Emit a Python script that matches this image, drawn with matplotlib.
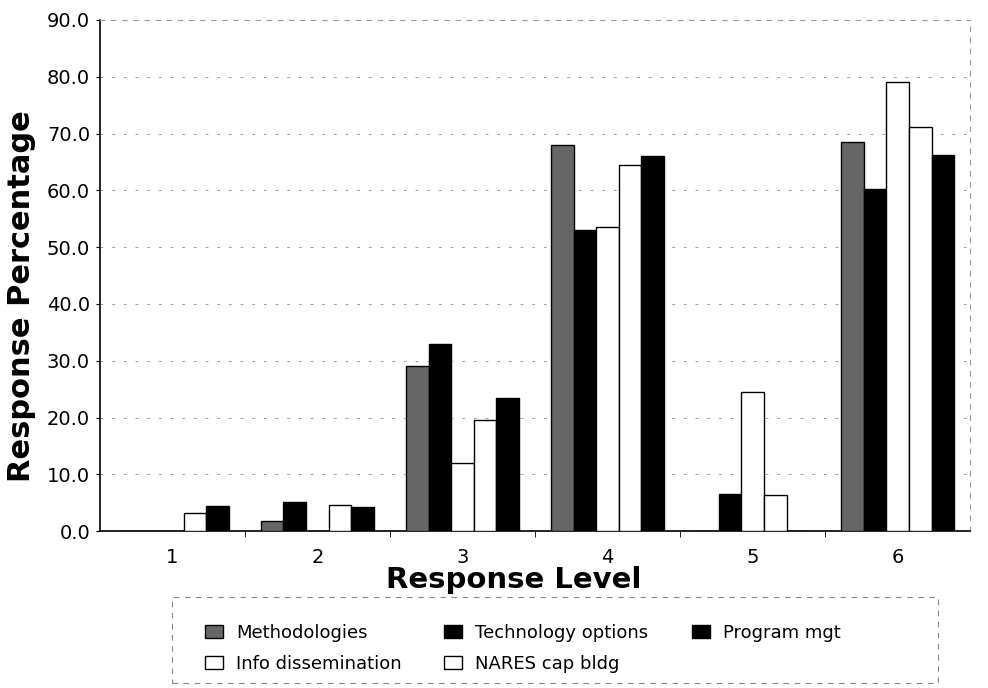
import numpy as np
import matplotlib
matplotlib.use("Agg")
import matplotlib.pyplot as plt
from matplotlib.patches import Patch, Rectangle

# response levels and percentages per series
levels = ["1", "2", "3", "4", "5", "6"]
methodologies = [0.0, 1.8, 29.0, 68.0, 0.0, 68.5]
technology = [0.0, 5.2, 33.0, 53.0, 6.5, 60.2]
info_diss = [0.0, 0.0, 12.0, 53.5, 24.5, 79.0]
nares = [3.2, 4.6, 19.5, 64.5, 6.3, 71.2]
program = [4.5, 4.3, 23.5, 66.0, 0.0, 66.2]
yticks = [0, 10, 20, 30, 40, 50, 60, 70, 80, 90]

series = [
    ("Methodologies", methodologies, "#666666"),
    ("Technology options", technology, "black"),
    ("Info dissemination", info_diss, "white"),
    ("NARES cap bldg", nares, "white"),
    ("Program mgt", program, "black"),
]

fig = plt.figure(figsize=(9.88, 6.88), dpi=100)
ax = fig.add_axes([0.101, 0.228, 0.881, 0.743])

x = np.arange(1, len(levels) + 1)
w = 0.156
for i, (name, vals, col) in enumerate(series):
    ax.bar(x + (i - 2) * w, vals, width=w, color=col, edgecolor="black",
           linewidth=1.0, zorder=3)

ax.set_xlim(0.5, 6.5)
ax.set_ylim(0, 90)
ax.set_yticks(yticks)
ax.set_yticklabels(["%.1f" % v for v in yticks], fontsize=14)
ax.set_xticks(x)
ax.set_xticklabels(levels, fontsize=14)
ax.set_xticks(np.arange(1.5, 6.5, 1.0), minor=True)
ax.tick_params(axis="x", which="major", length=0, pad=12)
ax.tick_params(axis="x", which="minor", length=4, direction="out")
ax.tick_params(axis="y", length=3, direction="out", pad=4)

for yv in yticks[1:-1]:
    ax.axhline(yv, color="#a0a0a0", lw=0.7, ls=(0, (3, 9)), zorder=1)

for s in ["top", "right"]:
    ax.spines[s].set_linestyle((0, (4, 6)))
    ax.spines[s].set_color("#999999")
    ax.spines[s].set_linewidth(0.8)
ax.spines["left"].set_linewidth(1.2)
ax.spines["bottom"].set_linewidth(1.2)

ax.set_xlabel("Response Level", fontsize=21, fontweight="bold")
ax.xaxis.set_label_coords(0.476, -0.068)
ax.set_ylabel("Response Percentage", fontsize=22, fontweight="bold")
ax.yaxis.set_label_coords(-0.073, 0.46)

# legend: frame drawn by hand, each column placed on its own
handles = {name: Patch(facecolor=col, edgecolor="black", linewidth=1.0)
           for name, vals, col in series}
fig.patches.append(Rectangle((0.174, 0.007), 0.775, 0.125, transform=fig.transFigure,
                             fill=False, edgecolor="#888888", lw=0.8,
                             linestyle=(0, (5, 5))))
columns = [
    (["Methodologies", "Info dissemination"], 0.207),
    (["Technology options", "NARES cap bldg"], 0.449),
    (["Program mgt"], 0.700),
]
for names, x0 in columns:
    fig.legend([handles[n] for n in names], names, loc="upper left",
               bbox_to_anchor=(x0, 0.093), frameon=False, fontsize=13,
               handlelength=1.0, handleheight=0.75, handletextpad=0.75,
               labelspacing=0.7, borderpad=0, borderaxespad=0)

fig.savefig("out.png", dpi=100)
